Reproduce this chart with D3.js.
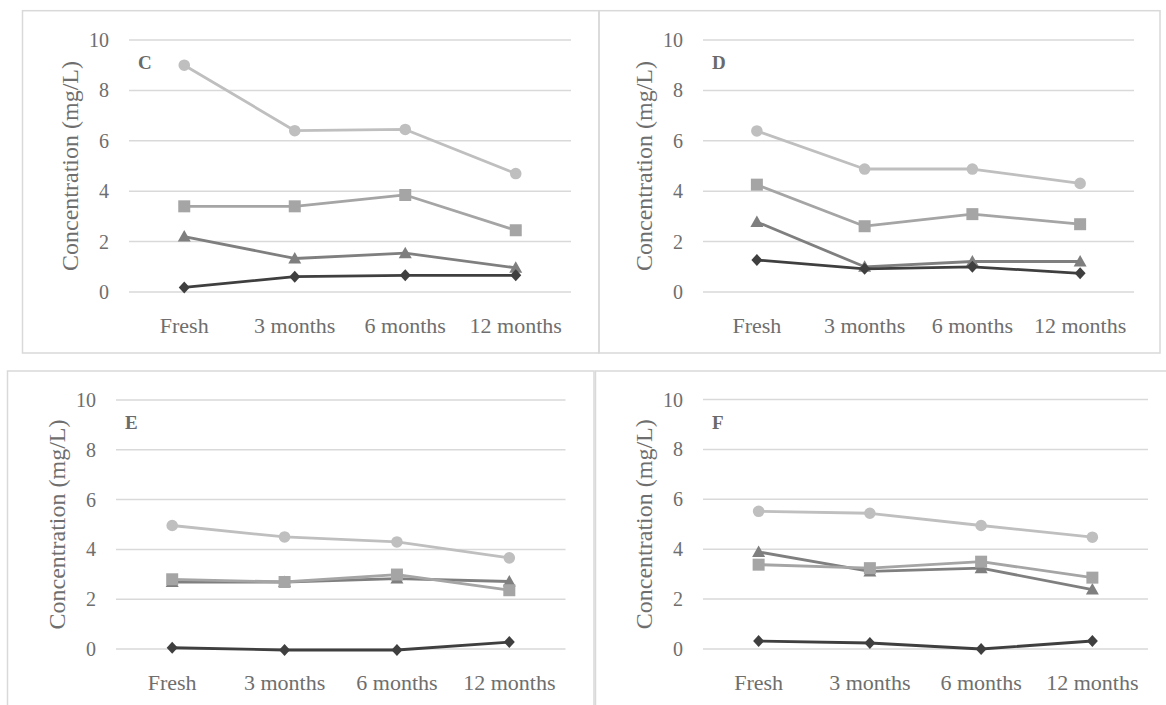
<!DOCTYPE html>
<html><head><meta charset="utf-8">
<script src="https://cdn.jsdelivr.net/npm/d3@7"></script>
<style>
html,body{margin:0;padding:0;background:#fff;}
svg{display:block;}
</style></head>
<body>
<svg id="chart" width="1166" height="705"></svg>
<script>
// ---------- data ----------
const categories = ["Fresh", "3 months", "6 months", "12 months"];
const yTicks = [0, 2, 4, 6, 8, 10];
const panelLabels = ["C", "D", "E", "F"];
const seriesMarkers = ["triangle", "square", "circle", "diamond"]; // draw order

const C_circle   = [9.0, 6.4, 6.45, 4.7];
const C_square   = [3.4, 3.4, 3.85, 2.45];
const C_triangle = [2.2, 1.33, 1.54, 0.96];
const C_diamond  = [0.18, 0.61, 0.66, 0.66];

const D_circle   = [6.39, 4.88, 4.88, 4.31];
const D_square   = [4.26, 2.61, 3.09, 2.69];
const D_triangle = [2.78, 1.0, 1.21, 1.21];
const D_diamond  = [1.27, 0.92, 1.0, 0.74];

const E_circle   = [4.96, 4.5, 4.3, 3.66];
const E_square   = [2.8, 2.69, 2.99, 2.36];
const E_triangle = [2.69, 2.69, 2.83, 2.71];
const E_diamond  = [0.05, -0.04, -0.04, 0.28];

const F_circle   = [5.52, 5.44, 4.95, 4.48];
const F_square   = [3.38, 3.24, 3.5, 2.86];
const F_triangle = [3.89, 3.11, 3.24, 2.38];
const F_diamond  = [0.32, 0.24, 0.0, 0.32];

const panelData = {
  C: {circle: C_circle, square: C_square, triangle: C_triangle, diamond: C_diamond},
  D: {circle: D_circle, square: D_square, triangle: D_triangle, diamond: D_diamond},
  E: {circle: E_circle, square: E_square, triangle: E_triangle, diamond: E_diamond},
  F: {circle: F_circle, square: F_square, triangle: F_triangle, diamond: F_diamond}
};

// ---------- layout ----------
const layout = {
  C: {box: [22.5, 10.7, 599, 353], plot: [129, 40, 571, 292]},
  D: {box: [599, 10.7, 1160, 353], plot: [703, 40, 1134, 292]},
  E: {box: [7.5, 371, 594, 720],  plot: [116, 400, 565.5, 649]},
  F: {box: [595.5, 371, 1180, 720], plot: [703, 399.5, 1148, 649]}
};
const colors = {circle: "#bfbfbf", square: "#a5a5a5", triangle: "#7f7f7f", diamond: "#3f3f3f"};
const textColor = "#6e6e6e";
const gridColor = "#d9d9d9";
const FONT = "'Liberation Serif', 'Times New Roman', serif";

function markerPath(type) {
  if (type === "circle") return d3.symbol(d3.symbolCircle, Math.PI * 5.8 * 5.8)();
  if (type === "square") return "M-6,-6H6V6H-6Z";
  if (type === "triangle") return "M0,-6.5L6.5,5L-6.5,5Z";
  if (type === "diamond") return "M0,-6L5.5,0L0,6L-5.5,0Z";
}

const svg = d3.select("#chart");

// borders
panelLabels.forEach(p => {
  const b = layout[p].box;
  svg.append("rect")
    .attr("x", b[0]).attr("y", b[1])
    .attr("width", b[2] - b[0]).attr("height", b[3] - b[1])
    .attr("fill", "none").attr("stroke", gridColor).attr("stroke-width", 1.5);
});

panelLabels.forEach(p => {
  const L = layout[p].plot;
  const x = d3.scalePoint().domain(categories).range([L[0], L[2]]).padding(0.5);
  const y = d3.scaleLinear().domain([0, 10]).range([L[3], L[1]]);
  const g = svg.append("g");

  // gridlines
  g.selectAll("line.grid").data(yTicks).enter().append("line")
    .attr("x1", L[0]).attr("x2", L[2])
    .attr("y1", d => y(d)).attr("y2", d => y(d))
    .attr("stroke", gridColor).attr("stroke-width", 1.5);

  // y tick labels
  g.selectAll("text.ytick").data(yTicks).enter().append("text")
    .attr("x", L[0] - 20).attr("y", d => y(d)).attr("dy", "0.35em")
    .attr("text-anchor", "end").attr("fill", textColor)
    .style("font-family", FONT).style("font-size", "20px")
    .text(d => d);

  // category labels
  g.selectAll("text.xtick").data(categories).enter().append("text")
    .attr("x", d => x(d)).attr("y", L[3] + 41)
    .attr("text-anchor", "middle").attr("fill", textColor)
    .style("font-family", FONT).style("font-size", "22px")
    .text(d => d);

  // y axis title
  const ty = (L[1] + L[3]) / 2, tx = L[0] - 59;
  g.append("text")
    .attr("transform", `translate(${tx},${ty}) rotate(-90)`)
    .attr("dy", "0.35em").attr("text-anchor", "middle").attr("fill", textColor)
    .style("font-family", FONT).style("font-size", "24px")
    .text("Concentration (mg/L)");

  // panel letter
  g.append("text")
    .attr("x", L[0] + 9).attr("y", L[1] + 29)
    .attr("fill", "#6a6a6a").attr("font-weight", "bold")
    .style("font-family", FONT).style("font-size", "19px")
    .text(p);

  // series
  const line = d3.line().x((d, i) => x(categories[i])).y(d => y(d));
  seriesMarkers.forEach(m => {
    const vals = panelData[p][m];
    g.append("path").datum(vals)
      .attr("d", line).attr("fill", "none")
      .attr("stroke", colors[m]).attr("stroke-width", 2.8)
      .attr("stroke-linejoin", "round").attr("stroke-linecap", "round");
    g.selectAll(null).data(vals).enter().append("path")
      .attr("d", markerPath(m))
      .attr("transform", (d, i) => `translate(${x(categories[i])},${y(d)})`)
      .attr("fill", colors[m]);
  });
});
</script>
</body></html>
